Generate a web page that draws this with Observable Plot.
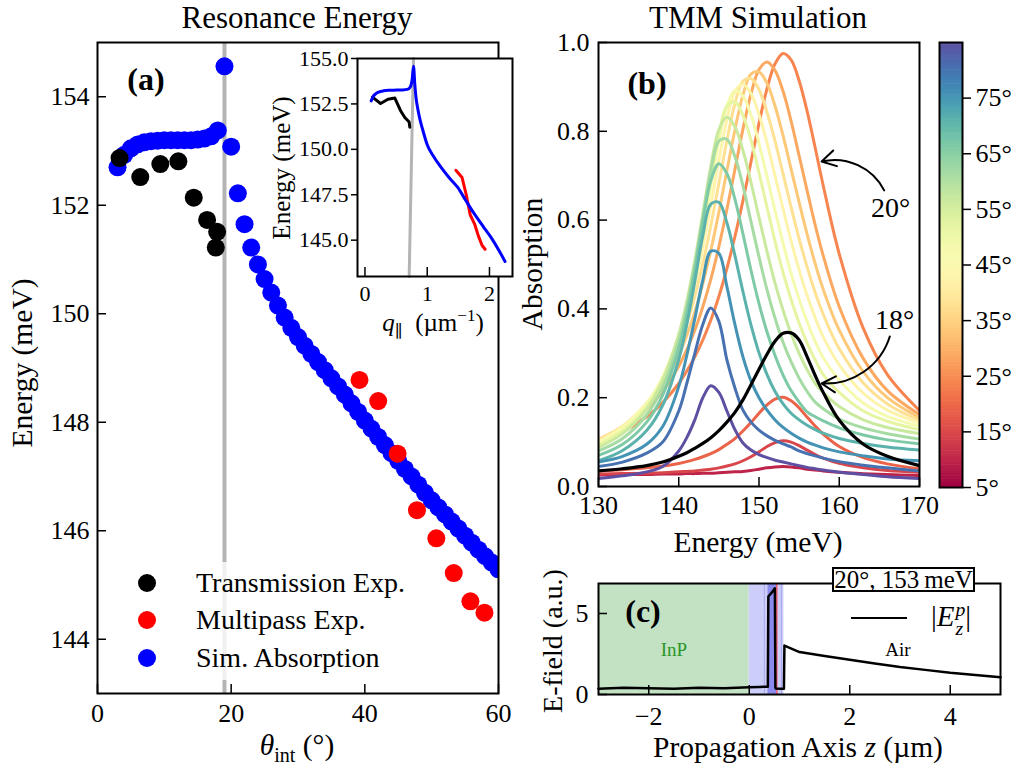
<!DOCTYPE html>
<html><head><meta charset="utf-8">
<script src="https://cdn.jsdelivr.net/npm/d3@7"></script>
<script src="https://cdn.jsdelivr.net/npm/@observablehq/plot@0.6"></script>
<style>
body{margin:0;background:#fff;}
#fig{position:relative;width:1021px;height:769px;overflow:hidden;font-family:"Liberation Serif","DejaVu Serif",serif;color:#000;background:#fff;}
#fig svg{position:absolute;left:0;top:0;}
#fig svg, #fig svg text{font-family:"Liberation Serif","DejaVu Serif",serif !important;}
.t{position:absolute;white-space:nowrap;transform:translate(-50%,-50%);line-height:1;}
.l{position:absolute;white-space:nowrap;transform:translate(0,-50%);line-height:1;}
.rot{transform:translate(-50%,-50%) rotate(-90deg);}
sub,sup{line-height:0;}
</style></head><body><div id="fig"></div>
<script>
// ---------------- data: panel (a) ----------------
const thetaSim = [3,4,5,6,7,8,9,10,11,12,13,14,15,16,17,18,19,20,21,22,23,24,25,26,27,28,29,30,31,32,33,34,35,36,37,38,39,40,41,42,43,44,45,46,47,48,49,50,51,52,53,54,55,56,57,58,59,60];
const energySim = [152.70,152.93,153.05,153.12,153.16,153.18,153.19,153.20,153.20,153.20,153.20,153.20,153.21,153.23,153.27,153.38,154.56,153.08,152.22,151.65,151.22,150.91,150.64,150.39,150.15,149.93,149.74,149.57,149.41,149.26,149.11,148.96,148.81,148.66,148.51,148.35,148.19,148.03,147.88,147.73,147.58,147.43,147.29,147.14,147.00,146.85,146.70,146.56,146.43,146.30,146.17,146.04,145.91,145.78,145.65,145.53,145.41,145.29];
const thetaTrans = [3.3,6.4,9.4,12.1,14.4,16.4,17.9,17.7];
const energyTrans = [152.87,152.52,152.76,152.81,152.14,151.73,151.51,151.22];
const thetaMulti = [39.2,42.0,44.9,47.8,50.7,53.3,55.8,57.9];
const energyMulti = [148.78,148.39,147.42,146.38,145.86,145.22,144.70,144.49];
const markerAngle = [19];
const legendLabels = ["Transmission Exp.","Multipass Exp.","Sim. Absorption"];

// ---------------- data: inset ----------------
const insetBlueQ = [0.10,0.13,0.17,0.22,0.30,0.40,0.50,0.60,0.68,0.73,0.76,0.78,0.80,0.82,0.85,0.89,0.93,1.00,1.10,1.22,1.35,1.49,1.62,1.76,1.90,2.03,2.15,2.25];
const insetBlueE = [152.67,152.90,153.05,153.15,153.22,153.25,153.26,153.27,153.30,153.45,153.90,154.57,153.60,152.85,152.20,151.55,151.05,150.25,149.62,149.02,148.45,147.90,147.18,146.43,145.75,145.13,144.45,143.83];
const insetBlackQ = [0.12,0.25,0.37,0.48,0.57,0.64,0.71,0.72];
const insetBlackE = [152.87,152.52,152.76,152.82,152.14,151.75,151.50,151.22];
const insetRedQ = [1.46,1.56,1.63,1.69,1.76,1.82,1.88,1.93];
const insetRedE = [148.85,148.45,147.45,146.40,145.90,145.25,144.72,144.50];
const insetGrayQ = [0.71,0.78];
const insetGrayE = [143,155];

// ---------------- data: panel (b) ----------------
const energies = [130,133,136,138,140,141,142,143,144,145,146,147,148,149,150,151,152,153,154,155,156,157,158,160,163,166,170];
const abs5  = [0.026,0.027,0.027,0.028,0.028,0.029,0.029,0.030,0.030,0.031,0.032,0.033,0.034,0.036,0.039,0.042,0.044,0.045,0.044,0.042,0.039,0.037,0.035,0.032,0.029,0.027,0.025];
const abs10 = [0.028,0.029,0.030,0.031,0.033,0.034,0.035,0.037,0.039,0.042,0.046,0.051,0.058,0.067,0.078,0.090,0.099,0.103,0.100,0.092,0.082,0.072,0.064,0.052,0.042,0.036,0.032];
const abs15 = [0.035,0.038,0.042,0.046,0.052,0.056,0.061,0.067,0.074,0.083,0.095,0.108,0.125,0.144,0.165,0.184,0.197,0.201,0.193,0.177,0.156,0.136,0.118,0.090,0.065,0.051,0.040];
const abs18 = [0.035,0.040,0.047,0.055,0.068,0.076,0.086,0.097,0.110,0.126,0.145,0.167,0.195,0.229,0.264,0.298,0.327,0.345,0.346,0.330,0.292,0.250,0.212,0.149,0.095,0.068,0.047];
const abs20 = [0.100,0.123,0.157,0.189,0.232,0.260,0.292,0.330,0.375,0.428,0.491,0.563,0.644,0.731,0.818,0.896,0.952,0.975,0.961,0.914,0.845,0.763,0.678,0.524,0.356,0.252,0.171];
const abs25 = [0.105,0.132,0.174,0.214,0.271,0.308,0.352,0.405,0.467,0.540,0.624,0.714,0.805,0.884,0.939,0.956,0.937,0.890,0.823,0.745,0.666,0.589,0.520,0.405,0.288,0.216,0.162];
const abs30 = [0.106,0.135,0.182,0.229,0.296,0.340,0.393,0.457,0.532,0.618,0.711,0.803,0.882,0.929,0.934,0.908,0.857,0.790,0.715,0.640,0.568,0.502,0.444,0.352,0.258,0.200,0.155];
const abs35 = [0.105,0.136,0.187,0.239,0.315,0.366,0.428,0.502,0.588,0.683,0.779,0.862,0.913,0.919,0.894,0.843,0.778,0.704,0.629,0.558,0.494,0.437,0.388,0.310,0.233,0.186,0.149];
const abs40 = [0.102,0.135,0.188,0.244,0.329,0.386,0.456,0.539,0.635,0.735,0.826,0.890,0.906,0.885,0.838,0.774,0.700,0.625,0.553,0.488,0.430,0.380,0.337,0.274,0.210,0.172,0.143];
const abs45 = [0.099,0.132,0.187,0.247,0.340,0.404,0.481,0.574,0.676,0.778,0.857,0.892,0.879,0.837,0.773,0.698,0.621,0.548,0.480,0.422,0.371,0.327,0.290,0.240,0.188,0.158,0.136];
const abs50 = [0.093,0.125,0.180,0.241,0.337,0.405,0.488,0.586,0.694,0.793,0.857,0.866,0.836,0.780,0.707,0.629,0.552,0.482,0.421,0.368,0.323,0.285,0.252,0.212,0.170,0.147,0.128];
const abs55 = [0.088,0.119,0.174,0.239,0.343,0.417,0.509,0.615,0.722,0.804,0.832,0.810,0.757,0.685,0.606,0.529,0.458,0.397,0.344,0.300,0.263,0.232,0.212,0.180,0.150,0.133,0.119];
const abs60 = [0.080,0.108,0.161,0.223,0.328,0.404,0.498,0.606,0.710,0.778,0.782,0.743,0.677,0.597,0.517,0.443,0.379,0.325,0.281,0.244,0.214,0.190,0.175,0.152,0.132,0.119,0.107];
const abs65 = [0.070,0.095,0.145,0.206,0.311,0.390,0.487,0.596,0.689,0.727,0.705,0.647,0.569,0.487,0.412,0.348,0.295,0.251,0.216,0.190,0.168,0.157,0.148,0.132,0.116,0.105,0.096];
const abs70 = [0.058,0.081,0.126,0.183,0.286,0.365,0.462,0.565,0.636,0.640,0.594,0.520,0.439,0.364,0.301,0.252,0.214,0.186,0.165,0.150,0.138,0.128,0.120,0.108,0.097,0.089,0.082];
const abs75 = [0.055,0.068,0.095,0.135,0.225,0.295,0.378,0.465,0.530,0.525,0.450,0.365,0.292,0.238,0.200,0.172,0.150,0.133,0.120,0.109,0.100,0.093,0.087,0.078,0.069,0.062,0.058];
const abs80 = [0.045,0.055,0.075,0.100,0.170,0.232,0.300,0.365,0.402,0.372,0.285,0.222,0.172,0.145,0.127,0.114,0.104,0.096,0.089,0.080,0.074,0.069,0.064,0.056,0.048,0.042,0.035];
const abs85 = [0.018,0.024,0.033,0.045,0.080,0.110,0.150,0.200,0.227,0.212,0.170,0.128,0.098,0.082,0.072,0.065,0.059,0.055,0.051,0.047,0.043,0.040,0.037,0.032,0.027,0.022,0.018];
const spectraAngles = [5,10,15,20,25,30,35,40,45,50,55,60,65,70,75,80,85];
const spectraValues = [abs5,abs10,abs15,abs20,abs25,abs30,abs35,abs40,abs45,abs50,abs55,abs60,abs65,abs70,abs75,abs80,abs85];
const highlightAngle = 18;
const colorbarTicks = [5,15,25,35,45,55,65,75];
const annotLabels = ["20°","18°"];
const annotTextE = [166.4,166.9];
const annotTextA = [0.627,0.375];
const annotFromE = [165.6,166.3];
const annotFromA = [0.667,0.338];
const annotToE = [157.8,157.8];
const annotToA = [0.732,0.232];

// ---------------- data: panel (c) ----------------
const zPos   = [-3,-2.5,-2,-1.5,-1,-0.5,0,0.2,0.37,0.38,0.45,0.51,0.52,0.53,0.6,0.68,0.69,0.70,1.0,1.5,2,2.5,3,3.5,4,4.5,5];
const fieldZ = [0.36,0.42,0.39,0.35,0.41,0.38,0.44,0.47,0.48,6.05,6.30,6.56,0.42,0.37,0.36,0.36,0.36,3.02,2.62,2.38,2.14,1.92,1.70,1.52,1.34,1.20,1.06];
const layerStart = [-3,0,0.37,0.55];
const layerEnd   = [0,0.37,0.55,0.69];
const layerKind  = ["InP","clad","active","clad"];
const layerEdges = [0.3,0.64];
const redInterface = [0.55];

// ---------------- helpers ----------------
const W = 1021, H = 769, FONT = "Liberation Serif";
const fig = document.getElementById("fig");
function frameOpts(f, fs) {
  return {width: W, height: H, marginLeft: f.x0, marginRight: W - f.x1, marginTop: f.y0, marginBottom: H - f.y1,
    style: {background: "transparent", fontFamily: FONT, fontSize: (fs || 26) + "px", color: "#000", overflow: "visible"}};
}
const inTicksX = (ticks, f) => Plot.tickX(ticks, {x: d => d, insetTop: (f.y1 - f.y0) - 9, strokeWidth: 1.5});
const inTicksY = (ticks, f) => Plot.tickY(ticks, {y: d => d, insetRight: (f.x1 - f.x0) - 9, strokeWidth: 1.5});
function addText(html, x, y, o = {}) {
  const d = document.createElement("div");
  d.className = (o.left ? "l" : "t") + (o.rot ? " rot" : "");
  d.innerHTML = html;
  d.style.left = x + "px"; d.style.top = y + "px";
  d.style.fontSize = (o.size || 29.5) + "px";
  if (o.bold) d.style.fontWeight = "bold";
  if (o.color) d.style.color = o.color;
  fig.appendChild(d);
  return d;
}
const zip2 = (a, b, ka, kb) => a.map((v, i) => ({[ka]: v, [kb]: b[i]}));
const intFmt = d3.format("d");

// ---------------- panel (a) ----------------
const fa = {x0: 97, x1: 498, y0: 42, y1: 693};
const simRows = zip2(thetaSim, energySim, "theta", "E");
const transRows = zip2(thetaTrans, energyTrans, "theta", "E");
const multiRows = zip2(thetaMulti, energyMulti, "theta", "E");
fig.appendChild(Plot.plot({
  ...frameOpts(fa),
  x: {domain: [0, 60]}, y: {domain: [143, 155]},
  marks: [
    Plot.ruleX(markerAngle, {stroke: "#b4b4b4", strokeWidth: 4}),
    Plot.dot(simRows, {x: "theta", y: "E", r: 9, fill: "#0000ff", clip: true}),
    Plot.dot(transRows, {x: "theta", y: "E", r: 9, fill: "#000000", clip: true}),
    Plot.dot(multiRows, {x: "theta", y: "E", r: 9, fill: "#ff0000", clip: true}),
    inTicksX([0, 20, 40, 60], fa),
    inTicksY([144, 146, 148, 150, 152, 154], fa),
    Plot.axisX({ticks: [0, 20, 40, 60], tickFormat: intFmt, tickSize: 0, tickPadding: 10, label: null}),
    Plot.axisY({ticks: [144, 146, 148, 150, 152, 154], tickFormat: intFmt, tickSize: 0, tickPadding: 8, label: null}),
    Plot.frame({strokeWidth: 2})
  ]
}));

// ---------------- inset ----------------
const fi = {x0: 357, x1: 512, y0: 58, y1: 276};
fig.appendChild(Plot.plot({
  ...frameOpts(fi, 22),
  x: {domain: [-0.12, 2.37]}, y: {domain: [143, 155]},
  marks: [
    Plot.frame({fill: "white", stroke: "none"}),
    Plot.line(zip2(insetGrayQ, insetGrayE, "q", "E"), {x: "q", y: "E", stroke: "#b4b4b4", strokeWidth: 3}),
    Plot.line(zip2(insetBlackQ, insetBlackE, "q", "E"), {x: "q", y: "E", stroke: "#000", strokeWidth: 3}),
    Plot.line(zip2(insetRedQ, insetRedE, "q", "E"), {x: "q", y: "E", stroke: "#ff0000", strokeWidth: 3}),
    Plot.line(zip2(insetBlueQ, insetBlueE, "q", "E"), {x: "q", y: "E", stroke: "#0000ff", strokeWidth: 3, curve: "monotone-x"}),
    inTicksX([0, 1, 2], fi),
    Plot.axisX({ticks: [0, 1, 2], tickFormat: intFmt, tickSize: 0, tickPadding: 9, label: null}),
    Plot.axisY({ticks: [145, 147.5, 150, 152.5, 155], tickFormat: d3.format(".1f"), tickSize: 6, tickPadding: 3, label: null, strokeWidth: 1.5}),
    Plot.frame({strokeWidth: 2})
  ]
}));

// ---------------- panel (b) ----------------
const fb = {x0: 598, x1: 919, y0: 42, y1: 486};
const lineColor = {type: "linear", scheme: "spectral", domain: [0, 85]};
const specRows = spectraAngles.flatMap((a, k) => energies.map((e, i) => ({angle: a, E: e, A: spectraValues[k][i]})));
const hlRows = energies.map((e, i) => ({angle: highlightAngle, E: e, A: abs18[i]}));
const annot = annotLabels.map((t, i) => ({t, tx: annotTextE[i], ty: annotTextA[i], x1: annotFromE[i], y1: annotFromA[i], x2: annotToE[i], y2: annotToA[i]}));
fig.appendChild(Plot.plot({
  ...frameOpts(fb),
  x: {domain: [130, 170]}, y: {domain: [0, 1]}, color: lineColor,
  marks: [
    Plot.line(specRows, {x: "E", y: "A", z: "angle", stroke: "angle", strokeWidth: 3, curve: "catmull-rom", clip: true}),
    Plot.line(hlRows, {x: "E", y: "A", stroke: "#000", strokeWidth: 3.2, curve: "catmull-rom", clip: true}),
    Plot.arrow([annot[0]], {x1: "x1", y1: "y1", x2: "x2", y2: "y2", bend: -38, stroke: "#000", strokeWidth: 2, headLength: 12}),
    Plot.arrow([annot[1]], {x1: "x1", y1: "y1", x2: "x2", y2: "y2", bend: 38, stroke: "#000", strokeWidth: 2, headLength: 12}),
    Plot.text(annot, {x: "tx", y: "ty", text: "t", fontSize: 28}),
    inTicksX([130, 140, 150, 160, 170], fb),
    inTicksY([0, 0.2, 0.4, 0.6, 0.8, 1.0], fb),
    Plot.axisX({ticks: [130, 140, 150, 160, 170], tickFormat: intFmt, tickSize: 0, tickPadding: 9, label: null}),
    Plot.axisY({ticks: [0, 0.2, 0.4, 0.6, 0.8, 1.0], tickFormat: d3.format(".1f"), tickSize: 0, tickPadding: 9, label: null}),
    Plot.frame({strokeWidth: 2})
  ]
}));

// ---------------- colorbar ----------------
const fcb = {x0: 939, x1: 962, y0: 42, y1: 487};
const cbStops = d3.range(5, 85, 0.5);
fig.appendChild(Plot.plot({
  ...frameOpts(fcb),
  x: {domain: [0, 1], axis: null}, y: {domain: [5, 85]}, color: {type: "linear", scheme: "spectral", domain: [5, 85]},
  marks: [
    Plot.rect(cbStops, {x1: 0, x2: 1, y1: d => d, y2: d => d + 0.6, fill: d => d + 0.25, clip: true}),
    Plot.axisY({anchor: "right", ticks: colorbarTicks, tickFormat: d => d + "°", tickSize: 8, tickPadding: 5, label: null, strokeWidth: 1.5}),
    Plot.frame({strokeWidth: 2})
  ]
}));

// ---------------- panel (c) ----------------
const fc = {x0: 598, x1: 1000, y0: 583, y1: 694};
const layerColor = {InP: "#c3e2c3", clad: "#cdcdf9", active: "#8b8bee"};
const layers = layerStart.map((s, i) => ({s, e: layerEnd[i], kind: layerKind[i]}));
fig.appendChild(Plot.plot({
  ...frameOpts(fc),
  x: {domain: [-3, 5]}, y: {domain: [0, 6.85]},
  marks: [
    Plot.rect(layers, {x1: "s", x2: "e", fill: d => layerColor[d.kind]}),
    Plot.ruleX(layerEdges, {stroke: "#a8a8ec", strokeWidth: 1}),
    Plot.ruleX(redInterface, {stroke: "#ff2020", strokeWidth: 1}),
    Plot.line(zip2(zPos, fieldZ, "z", "E"), {x: "z", y: "E", stroke: "#000", strokeWidth: 2.5}),
    inTicksX([-2, 0, 2, 4], fc),
    inTicksY([0, 5], fc),
    Plot.axisX({ticks: [-2, 0, 2, 4], tickSize: 0, tickPadding: 12, label: null}),
    Plot.axisY({ticks: [0, 5], tickFormat: intFmt, tickSize: 0, tickPadding: 10, label: null}),
    Plot.frame({strokeWidth: 2})
  ]
}));

// ---------------- text overlays ----------------
addText("Resonance Energy", 297, 17, {size: 31});
addText("TMM Simulation", 758, 17, {size: 31});
addText("Energy (meV)", 23, 363, {rot: true});
addText("<i>θ</i><sub style='font-size:0.68em'>int</sub>&nbsp;(°)", 297, 746);
addText("Energy (meV)", 281, 168, {rot: true, size: 25});
addText("<i>q</i><sub style='font-size:0.68em'>∥</sub>&nbsp;&nbsp;(µm<sup style='font-size:0.68em'>−1</sup>)", 433, 322, {size: 25});
addText("Absorption", 533, 264, {rot: true});
addText("Energy (meV)", 758, 543);
addText("E-field (a.u.)", 553, 641, {rot: true, size: 28});
addText("Propagation Axis <i>z</i> (µm)", 798, 748);
addText("(a)", 146, 79, {bold: true, size: 32});
addText("(b)", 647, 83, {bold: true, size: 32});
addText("(c)", 643, 611, {bold: true, size: 32});

// legend (a)
const lg = document.createElement("div");
Object.assign(lg.style, {position: "absolute", left: "118px", top: "562px", width: "300px", height: "118px", background: "rgba(255,255,255,0.8)"});
fig.appendChild(lg);
const legendColors = ["#000000", "#ff0000", "#0000ff"];
const legendY = [583, 620, 658];
legendLabels.forEach((lab, i) => {
  const c = document.createElement("div");
  Object.assign(c.style, {position: "absolute", left: (147 - 9) + "px", top: (legendY[i] - 9) + "px", width: "18px", height: "18px", borderRadius: "50%", background: legendColors[i]});
  fig.appendChild(c);
  addText(lab, 196, legendY[i], {left: true, size: 28});
});

// panel (c) annotations
addText("InP", 674, 649, {size: 19, color: "#2a962a"});
addText("Air", 898, 649, {size: 19});
const box = document.createElement("div");
Object.assign(box.style, {position: "absolute", left: "832px", top: "567px", width: "139px", height: "21px", border: "2px solid #000", background: "#fff", fontSize: "25px", lineHeight: "21px", textAlign: "center", whiteSpace: "nowrap"});
box.innerHTML = "20°,&nbsp;153&thinsp;meV";
fig.appendChild(box);
const ln = document.createElement("div");
Object.assign(ln.style, {position: "absolute", left: "851px", top: "617px", width: "56px", height: "0", borderTop: "2.5px solid #000"});
fig.appendChild(ln);
addText("|<i>E</i><span style='display:inline-flex;flex-direction:column;vertical-align:middle;font-size:0.68em;line-height:0.95;margin-left:1px'><i>p</i><i>z</i></span>|", 951, 619, {size: 29});
</script></body></html>
